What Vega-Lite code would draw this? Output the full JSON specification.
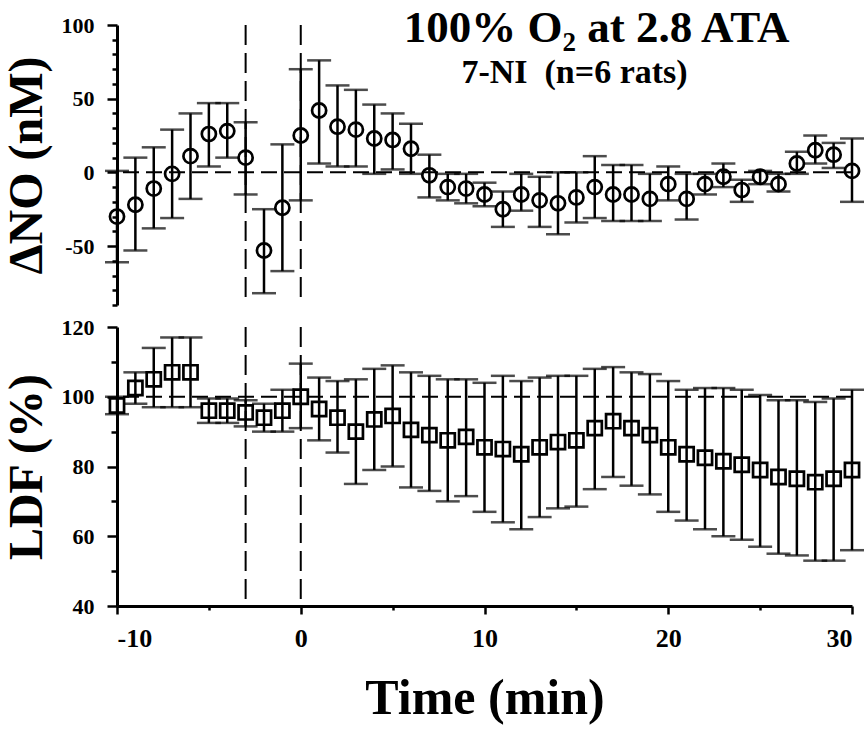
{
  "$schema": "https://vega.github.io/schema/vega-lite/v6.json",
  "padding": {"left": 3, "top": 5, "right": 0, "bottom": 2},
  "background": "white",
  "datasets": {
    "no": [
      {"t": -10, "y": -30, "lo": -61, "hi": 1},
      {"t": -9, "y": -22, "lo": -53, "hi": 10},
      {"t": -8, "y": -11, "lo": -38, "hi": 17},
      {"t": -7, "y": -1, "lo": -31, "hi": 29},
      {"t": -6, "y": 11, "lo": -18, "hi": 40},
      {"t": -5, "y": 26, "lo": 4, "hi": 47},
      {"t": -4, "y": 28, "lo": 10, "hi": 47},
      {"t": -3, "y": 10, "lo": -15, "hi": 34},
      {"t": -2, "y": -53, "lo": -82, "hi": -25},
      {"t": -1, "y": -24, "lo": -67, "hi": 19},
      {"t": 0, "y": 25, "lo": -19, "hi": 70},
      {"t": 1, "y": 42, "lo": 6, "hi": 76},
      {"t": 2, "y": 31, "lo": 4, "hi": 59},
      {"t": 3, "y": 29, "lo": 4, "hi": 56},
      {"t": 4, "y": 23, "lo": -1, "hi": 46},
      {"t": 5, "y": 22, "lo": 2, "hi": 40},
      {"t": 6, "y": 16, "lo": -1, "hi": 33},
      {"t": 7, "y": -2, "lo": -17, "hi": 12},
      {"t": 8, "y": -10, "lo": -19, "hi": -1},
      {"t": 9, "y": -11, "lo": -21, "hi": -1},
      {"t": 10, "y": -15, "lo": -23, "hi": -7},
      {"t": 11, "y": -25, "lo": -37, "hi": -13},
      {"t": 12, "y": -15, "lo": -26, "hi": -1},
      {"t": 13, "y": -19, "lo": -37, "hi": -3},
      {"t": 14, "y": -21, "lo": -42, "hi": 0},
      {"t": 15, "y": -17, "lo": -34, "hi": 0},
      {"t": 16, "y": -10, "lo": -31, "hi": 11},
      {"t": 17, "y": -15, "lo": -33, "hi": 5},
      {"t": 18, "y": -15, "lo": -33, "hi": 5},
      {"t": 19, "y": -18, "lo": -33, "hi": -1},
      {"t": 20, "y": -8, "lo": -19, "hi": 4},
      {"t": 21, "y": -18, "lo": -32, "hi": -1},
      {"t": 22, "y": -8, "lo": -15, "hi": -1},
      {"t": 23, "y": -3, "lo": -10, "hi": 6},
      {"t": 24, "y": -12, "lo": -20, "hi": -5},
      {"t": 25, "y": -3, "lo": -8, "hi": 1},
      {"t": 26, "y": -8, "lo": -13, "hi": -1},
      {"t": 27, "y": 6, "lo": -1, "hi": 14},
      {"t": 28, "y": 15, "lo": 6, "hi": 25},
      {"t": 29, "y": 12, "lo": 3, "hi": 20},
      {"t": 30, "y": 1, "lo": -20, "hi": 23}
    ],
    "ldf": [
      {"t": -10, "y": 97.5, "lo": 95, "hi": 100},
      {"t": -9, "y": 102.5, "lo": 98, "hi": 107},
      {"t": -8, "y": 105, "lo": 97, "hi": 114},
      {"t": -7, "y": 107, "lo": 97, "hi": 117},
      {"t": -6, "y": 107, "lo": 97, "hi": 117},
      {"t": -5, "y": 96, "lo": 92.5, "hi": 99.5},
      {"t": -4, "y": 96, "lo": 92.5, "hi": 99.5},
      {"t": -3, "y": 95.5, "lo": 91.5, "hi": 99},
      {"t": -2, "y": 94, "lo": 90, "hi": 98},
      {"t": -1, "y": 96, "lo": 90, "hi": 102},
      {"t": 0, "y": 100, "lo": 91, "hi": 109.5},
      {"t": 1, "y": 96.5, "lo": 87.5, "hi": 105.5},
      {"t": 2, "y": 94, "lo": 84, "hi": 104.5},
      {"t": 3, "y": 90, "lo": 75, "hi": 105},
      {"t": 4, "y": 93.5, "lo": 79, "hi": 108},
      {"t": 5, "y": 94.5, "lo": 80, "hi": 109},
      {"t": 6, "y": 90.5, "lo": 74, "hi": 107},
      {"t": 7, "y": 89, "lo": 73, "hi": 106},
      {"t": 8, "y": 87.5, "lo": 70, "hi": 105},
      {"t": 9, "y": 88.5, "lo": 71.5, "hi": 105},
      {"t": 10, "y": 85.5, "lo": 67, "hi": 104},
      {"t": 11, "y": 85, "lo": 64, "hi": 106},
      {"t": 12, "y": 83.5, "lo": 62, "hi": 104.5},
      {"t": 13, "y": 85.5, "lo": 65.5, "hi": 105.5},
      {"t": 14, "y": 87, "lo": 68, "hi": 106},
      {"t": 15, "y": 87.5, "lo": 68.5, "hi": 106},
      {"t": 16, "y": 91, "lo": 73.5, "hi": 108},
      {"t": 17, "y": 93, "lo": 77, "hi": 108.5},
      {"t": 18, "y": 91, "lo": 74.5, "hi": 107},
      {"t": 19, "y": 89, "lo": 72, "hi": 106.5},
      {"t": 20, "y": 85.5, "lo": 67, "hi": 104.5},
      {"t": 21, "y": 83.5, "lo": 64.5, "hi": 102},
      {"t": 22, "y": 82.5, "lo": 62, "hi": 102.5},
      {"t": 23, "y": 81.5, "lo": 60, "hi": 102.5},
      {"t": 24, "y": 80.5, "lo": 59, "hi": 102},
      {"t": 25, "y": 79, "lo": 57, "hi": 100.5},
      {"t": 26, "y": 77, "lo": 55, "hi": 99},
      {"t": 27, "y": 76.5, "lo": 54.5, "hi": 99},
      {"t": 28, "y": 75.5, "lo": 53, "hi": 98.5},
      {"t": 29, "y": 76.5, "lo": 53, "hi": 99.5},
      {"t": 30, "y": 79, "lo": 56, "hi": 102}
    ],
    "events": [{"t": -3}, {"t": 0}]
  },
  "config": {
    "view": {"stroke": null},
    "font": "Liberation Serif",
    "axis": {
      "domainColor": "black", "domainWidth": 3, "tickColor": "black", "tickWidth": 2.5,
      "labelColor": "black", "labelFont": "Liberation Serif", "labelFontWeight": "bold",
      "titleFont": "Liberation Serif", "titleFontWeight": "bold", "titleColor": "black", "grid": false,
      "labelOverlap": false
    }
  },
  "spacing": 22,
  "bounds": "flush",
  "vconcat": [
    {
      "width": 735,
      "height": 280,
      "layer": [
        {
          "data": {"name": "events"},
          "mark": {"type": "rule", "strokeDash": [20, 8], "strokeWidth": 2, "color": "black"},
          "encoding": {
            "x": {"field": "t", "type": "quantitative", "scale": {"domain": [-10, 30], "nice": false}, "axis": null}
          }
        },
        {
          "data": {"name": "no"},
          "mark": {"type": "rule", "strokeWidth": 2.5, "color": "black"},
          "encoding": {
            "x": {"field": "t", "type": "quantitative", "scale": {"domain": [-10, 30], "nice": false}, "axis": null},
            "y": {"field": "lo", "type": "quantitative", "scale": {"domain": [-90, 100], "nice": false},
              "axis": {
                "title": "ΔNO (nM)", "titleFontSize": 48, "titlePadding": 10,
                "values": [-90, -80, -70, -60, -50, -40, -30, -20, -10, 0, 10, 20, 30, 40, 50, 60, 70, 80, 90, 100],
                "labelExpr": "datum.value % 50 === 0 ? '' + datum.value : ''",
                "tickSize": {"condition": {"test": "datum.value % 50 === 0", "value": 10}, "value": 5},
                "labelFontSize": 22, "labelPadding": 13, "labelOverlap": false
              }},
            "y2": {"field": "hi"}
          }
        },
        {
          "data": {"name": "no"},
          "mark": {"type": "tick", "orient": "horizontal", "size": 24, "thickness": 2.5, "color": "black"},
          "encoding": {
            "x": {"field": "t", "type": "quantitative", "scale": {"domain": [-10, 30], "nice": false}, "axis": null},
            "y": {"field": "lo", "type": "quantitative", "scale": {"domain": [-90, 100], "nice": false},
              "axis": {
                "title": "ΔNO (nM)", "titleFontSize": 48, "titlePadding": 10,
                "values": [-90, -80, -70, -60, -50, -40, -30, -20, -10, 0, 10, 20, 30, 40, 50, 60, 70, 80, 90, 100],
                "labelExpr": "datum.value % 50 === 0 ? '' + datum.value : ''",
                "tickSize": {"condition": {"test": "datum.value % 50 === 0", "value": 10}, "value": 5},
                "labelFontSize": 22, "labelPadding": 13, "labelOverlap": false
              }}
          }
        },
        {
          "data": {"name": "no"},
          "mark": {"type": "tick", "orient": "horizontal", "size": 24, "thickness": 2.5, "color": "black"},
          "encoding": {
            "x": {"field": "t", "type": "quantitative", "scale": {"domain": [-10, 30], "nice": false}, "axis": null},
            "y": {"field": "hi", "type": "quantitative", "scale": {"domain": [-90, 100], "nice": false},
              "axis": {
                "title": "ΔNO (nM)", "titleFontSize": 48, "titlePadding": 10,
                "values": [-90, -80, -70, -60, -50, -40, -30, -20, -10, 0, 10, 20, 30, 40, 50, 60, 70, 80, 90, 100],
                "labelExpr": "datum.value % 50 === 0 ? '' + datum.value : ''",
                "tickSize": {"condition": {"test": "datum.value % 50 === 0", "value": 10}, "value": 5},
                "labelFontSize": 22, "labelPadding": 13, "labelOverlap": false
              }}
          }
        },
        {
          "data": {"name": "no"},
          "mark": {"type": "point", "shape": "circle", "filled": false, "size": 200, "strokeWidth": 2.7, "color": "black", "opacity": 1},
          "encoding": {
            "x": {"field": "t", "type": "quantitative", "scale": {"domain": [-10, 30], "nice": false}, "axis": null},
            "y": {"field": "y", "type": "quantitative", "scale": {"domain": [-90, 100], "nice": false},
              "axis": {
                "title": "ΔNO (nM)", "titleFontSize": 48, "titlePadding": 10,
                "values": [-90, -80, -70, -60, -50, -40, -30, -20, -10, 0, 10, 20, 30, 40, 50, 60, 70, 80, 90, 100],
                "labelExpr": "datum.value % 50 === 0 ? '' + datum.value : ''",
                "tickSize": {"condition": {"test": "datum.value % 50 === 0", "value": 10}, "value": 5},
                "labelFontSize": 22, "labelPadding": 13, "labelOverlap": false
              }}
          }
        },
        {
          "data": {"values": [{}]},
          "mark": {"type": "rule", "strokeDash": [16, 7], "strokeWidth": 2, "color": "black"},
          "encoding": {
            "y": {"datum": 0, "type": "quantitative", "scale": {"domain": [-90, 100], "nice": false},
              "axis": {
                "title": "ΔNO (nM)", "titleFontSize": 48, "titlePadding": 10,
                "values": [-90, -80, -70, -60, -50, -40, -30, -20, -10, 0, 10, 20, 30, 40, 50, 60, 70, 80, 90, 100],
                "labelExpr": "datum.value % 50 === 0 ? '' + datum.value : ''",
                "tickSize": {"condition": {"test": "datum.value % 50 === 0", "value": 10}, "value": 5},
                "labelFontSize": 22, "labelPadding": 13, "labelOverlap": false
              }}
          }
        },
        {
          "data": {"values": [{}]},
          "mark": {"type": "text", "text": "100% O₂ at 2.8 ATA", "font": "Liberation Serif", "fontWeight": "bold", "fontSize": 45, "align": "center", "baseline": "alphabetic", "color": "black"},
          "encoding": {
            "x": {"datum": 16.1, "type": "quantitative", "scale": {"domain": [-10, 30], "nice": false}, "axis": null},
            "y": {"datum": 88.5, "type": "quantitative", "scale": {"domain": [-90, 100], "nice": false},
              "axis": {
                "title": "ΔNO (nM)", "titleFontSize": 48, "titlePadding": 10,
                "values": [-90, -80, -70, -60, -50, -40, -30, -20, -10, 0, 10, 20, 30, 40, 50, 60, 70, 80, 90, 100],
                "labelExpr": "datum.value % 50 === 0 ? '' + datum.value : ''",
                "tickSize": {"condition": {"test": "datum.value % 50 === 0", "value": 10}, "value": 5},
                "labelFontSize": 22, "labelPadding": 13, "labelOverlap": false
              }}
          }
        },
        {
          "data": {"values": [{}]},
          "mark": {"type": "text", "text": "7-NI\u00a0\u00a0(n=6 rats)", "font": "Liberation Serif", "fontWeight": "bold", "fontSize": 34, "align": "center", "baseline": "alphabetic", "color": "black"},
          "encoding": {
            "x": {"datum": 14.9, "type": "quantitative", "scale": {"domain": [-10, 30], "nice": false}, "axis": null},
            "y": {"datum": 60.8, "type": "quantitative", "scale": {"domain": [-90, 100], "nice": false},
              "axis": {
                "title": "ΔNO (nM)", "titleFontSize": 48, "titlePadding": 10,
                "values": [-90, -80, -70, -60, -50, -40, -30, -20, -10, 0, 10, 20, 30, 40, 50, 60, 70, 80, 90, 100],
                "labelExpr": "datum.value % 50 === 0 ? '' + datum.value : ''",
                "tickSize": {"condition": {"test": "datum.value % 50 === 0", "value": 10}, "value": 5},
                "labelFontSize": 22, "labelPadding": 13, "labelOverlap": false
              }}
          }
        }
      ]
    },
    {
      "width": 735,
      "height": 279,
      "layer": [
        {
          "data": {"name": "events"},
          "mark": {"type": "rule", "strokeDash": [20, 8], "strokeWidth": 2, "color": "black"},
          "encoding": {
            "x": {"field": "t", "type": "quantitative", "scale": {"domain": [-10, 30], "nice": false},
              "axis": {
                "title": "Time (min)", "titleFontSize": 50, "titlePadding": 22,
                "values": [-10, -5, 0, 5, 10, 15, 20, 25, 30],
                "labelExpr": "datum.value % 10 === 0 ? '' + datum.value : ''",
                "tickSize": {"condition": {"test": "datum.value % 10 === 0", "value": 8}, "value": 4},
                "labelFontSize": 26, "labelPadding": 11, "labelOverlap": false
              }}
          }
        },
        {
          "data": {"name": "ldf"},
          "mark": {"type": "rule", "strokeWidth": 2.5, "color": "black"},
          "encoding": {
            "x": {"field": "t", "type": "quantitative", "scale": {"domain": [-10, 30], "nice": false},
              "axis": {
                "title": "Time (min)", "titleFontSize": 50, "titlePadding": 22,
                "values": [-10, -5, 0, 5, 10, 15, 20, 25, 30],
                "labelExpr": "datum.value % 10 === 0 ? '' + datum.value : ''",
                "tickSize": {"condition": {"test": "datum.value % 10 === 0", "value": 8}, "value": 4},
                "labelFontSize": 26, "labelPadding": 11, "labelOverlap": false
              }},
            "y": {"field": "lo", "type": "quantitative", "scale": {"domain": [40, 120], "nice": false},
              "axis": {
                "title": "LDF (%)", "titleFontSize": 48, "titlePadding": 10,
                "values": [40, 50, 60, 70, 80, 90, 100, 110, 120],
                "labelExpr": "datum.value % 20 === 0 ? '' + datum.value : ''",
                "tickSize": {"condition": {"test": "datum.value % 20 === 0", "value": 10}, "value": 6},
                "labelFontSize": 22, "labelPadding": 13, "labelOverlap": false
              }},
            "y2": {"field": "hi"}
          }
        },
        {
          "data": {"name": "ldf"},
          "mark": {"type": "tick", "orient": "horizontal", "size": 24, "thickness": 2.5, "color": "black"},
          "encoding": {
            "x": {"field": "t", "type": "quantitative", "scale": {"domain": [-10, 30], "nice": false},
              "axis": {
                "title": "Time (min)", "titleFontSize": 50, "titlePadding": 22,
                "values": [-10, -5, 0, 5, 10, 15, 20, 25, 30],
                "labelExpr": "datum.value % 10 === 0 ? '' + datum.value : ''",
                "tickSize": {"condition": {"test": "datum.value % 10 === 0", "value": 8}, "value": 4},
                "labelFontSize": 26, "labelPadding": 11, "labelOverlap": false
              }},
            "y": {"field": "lo", "type": "quantitative", "scale": {"domain": [40, 120], "nice": false},
              "axis": {
                "title": "LDF (%)", "titleFontSize": 48, "titlePadding": 10,
                "values": [40, 50, 60, 70, 80, 90, 100, 110, 120],
                "labelExpr": "datum.value % 20 === 0 ? '' + datum.value : ''",
                "tickSize": {"condition": {"test": "datum.value % 20 === 0", "value": 10}, "value": 6},
                "labelFontSize": 22, "labelPadding": 13, "labelOverlap": false
              }}
          }
        },
        {
          "data": {"name": "ldf"},
          "mark": {"type": "tick", "orient": "horizontal", "size": 24, "thickness": 2.5, "color": "black"},
          "encoding": {
            "x": {"field": "t", "type": "quantitative", "scale": {"domain": [-10, 30], "nice": false},
              "axis": {
                "title": "Time (min)", "titleFontSize": 50, "titlePadding": 22,
                "values": [-10, -5, 0, 5, 10, 15, 20, 25, 30],
                "labelExpr": "datum.value % 10 === 0 ? '' + datum.value : ''",
                "tickSize": {"condition": {"test": "datum.value % 10 === 0", "value": 8}, "value": 4},
                "labelFontSize": 26, "labelPadding": 11, "labelOverlap": false
              }},
            "y": {"field": "hi", "type": "quantitative", "scale": {"domain": [40, 120], "nice": false},
              "axis": {
                "title": "LDF (%)", "titleFontSize": 48, "titlePadding": 10,
                "values": [40, 50, 60, 70, 80, 90, 100, 110, 120],
                "labelExpr": "datum.value % 20 === 0 ? '' + datum.value : ''",
                "tickSize": {"condition": {"test": "datum.value % 20 === 0", "value": 10}, "value": 6},
                "labelFontSize": 22, "labelPadding": 13, "labelOverlap": false
              }}
          }
        },
        {
          "data": {"name": "ldf"},
          "mark": {"type": "point", "shape": "square", "filled": false, "size": 200, "strokeWidth": 2.7, "color": "black", "opacity": 1},
          "encoding": {
            "x": {"field": "t", "type": "quantitative", "scale": {"domain": [-10, 30], "nice": false},
              "axis": {
                "title": "Time (min)", "titleFontSize": 50, "titlePadding": 22,
                "values": [-10, -5, 0, 5, 10, 15, 20, 25, 30],
                "labelExpr": "datum.value % 10 === 0 ? '' + datum.value : ''",
                "tickSize": {"condition": {"test": "datum.value % 10 === 0", "value": 8}, "value": 4},
                "labelFontSize": 26, "labelPadding": 11, "labelOverlap": false
              }},
            "y": {"field": "y", "type": "quantitative", "scale": {"domain": [40, 120], "nice": false},
              "axis": {
                "title": "LDF (%)", "titleFontSize": 48, "titlePadding": 10,
                "values": [40, 50, 60, 70, 80, 90, 100, 110, 120],
                "labelExpr": "datum.value % 20 === 0 ? '' + datum.value : ''",
                "tickSize": {"condition": {"test": "datum.value % 20 === 0", "value": 10}, "value": 6},
                "labelFontSize": 22, "labelPadding": 13, "labelOverlap": false
              }}
          }
        },
        {
          "data": {"values": [{}]},
          "mark": {"type": "rule", "strokeDash": [16, 7], "strokeWidth": 2, "color": "black"},
          "encoding": {
            "y": {"datum": 100, "type": "quantitative", "scale": {"domain": [40, 120], "nice": false},
              "axis": {
                "title": "LDF (%)", "titleFontSize": 48, "titlePadding": 10,
                "values": [40, 50, 60, 70, 80, 90, 100, 110, 120],
                "labelExpr": "datum.value % 20 === 0 ? '' + datum.value : ''",
                "tickSize": {"condition": {"test": "datum.value % 20 === 0", "value": 10}, "value": 6},
                "labelFontSize": 22, "labelPadding": 13, "labelOverlap": false
              }}
          }
        }
      ]
    }
  ]
}
